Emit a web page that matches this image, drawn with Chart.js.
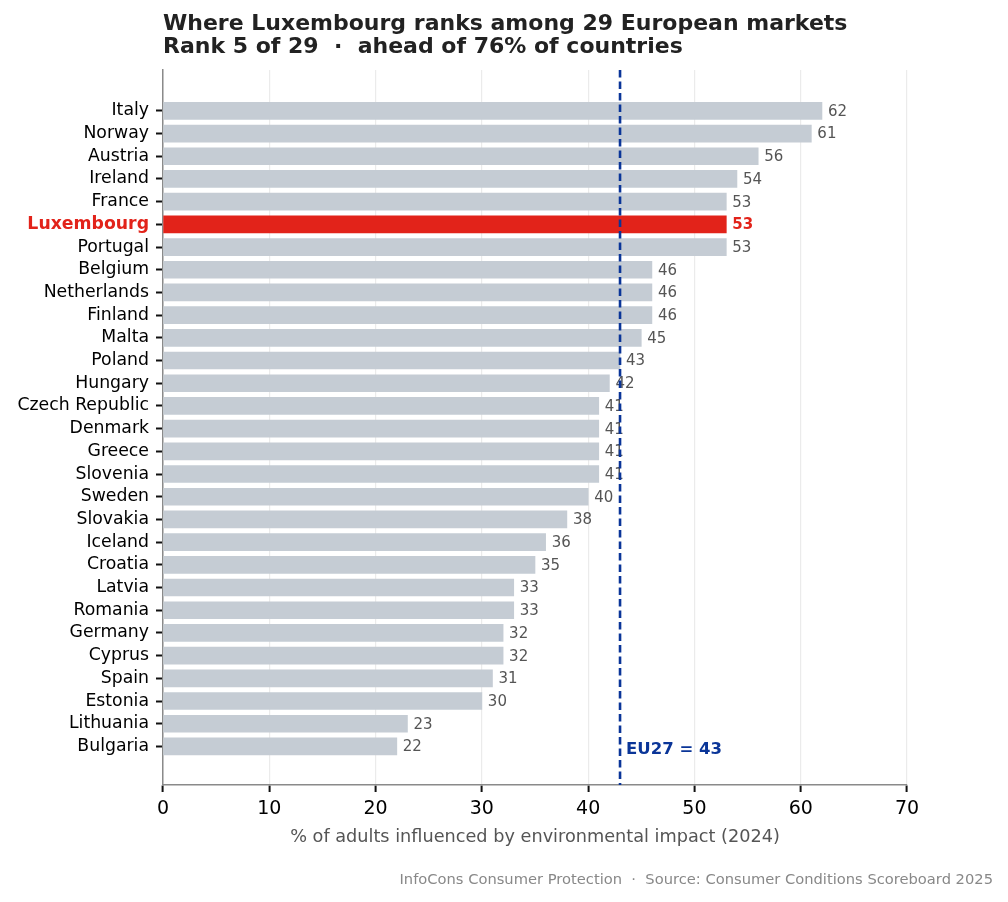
<!DOCTYPE html>
<html>
<head>
<meta charset="utf-8">
<script src="https://cdn.jsdelivr.net/npm/chart.js@4.4.1/dist/chart.umd.min.js"></script>
<style>
  html, body { margin: 0; padding: 0; background: #fff; }
  #wrap { width: 1008px; height: 902px; }
</style>
</head>
<body>
<div id="wrap"><canvas id="rankChart" width="1008" height="902"></canvas></div>
<script>
// Data (top to bottom)
const countries = ['Italy', 'Norway', 'Austria', 'Ireland', 'France', 'Luxembourg', 'Portugal', 'Belgium',
  'Netherlands', 'Finland', 'Malta', 'Poland', 'Hungary', 'Czech Republic', 'Denmark', 'Greece',
  'Slovenia', 'Sweden', 'Slovakia', 'Iceland', 'Croatia', 'Latvia', 'Romania', 'Germany', 'Cyprus',
  'Spain', 'Estonia', 'Lithuania', 'Bulgaria'];
const shares = [62, 61, 56, 54, 53, 53, 53, 46, 46, 46, 45, 43, 42, 41, 41, 41, 41, 40, 38, 36, 35, 33, 33, 32, 32, 31, 30, 23, 22];
const xTicks = [0, 10, 20, 30, 40, 50, 60, 70];
const focus = 'Luxembourg';
const eu27 = 43;

const FONT = "'DejaVu Sans', sans-serif";
const RED = '#e2231a';
const GREY_BAR = '#c5ccd4';
const EU_BLUE = '#0a3598';

// bar value labels + EU27 reference line + title/footer text
const extras = {
  id: 'extras',
  afterDatasetsDraw(chart) {
    const { ctx, chartArea, scales } = chart;
    const meta = chart.getDatasetMeta(0);
    ctx.save();
    ctx.textBaseline = 'middle';
    ctx.textAlign = 'left';
    meta.data.forEach((bar, i) => {
      const isFocus = countries[i] === focus;
      ctx.font = (isFocus ? 'bold ' : '') + '15px ' + FONT;
      ctx.fillStyle = isFocus ? RED : '#555555';
      ctx.fillText(String(shares[i]), bar.x + 6, bar.y + 1);
    });

    // EU27 dashed line
    const xe = scales.x.getPixelForValue(eu27);
    ctx.strokeStyle = EU_BLUE;
    ctx.lineWidth = 2.6;
    ctx.setLineDash([7.5, 4]);
    ctx.beginPath();
    ctx.moveTo(xe, chartArea.top);
    ctx.lineTo(xe, chartArea.bottom);
    ctx.stroke();
    ctx.setLineDash([]);

    ctx.font = 'bold 16.5px ' + FONT;
    ctx.fillStyle = EU_BLUE;
    ctx.fillText('EU27 = ' + eu27, xe + 6, chartArea.bottom - 35);
    ctx.restore();
  },
  afterDraw(chart) {
    const { ctx, chartArea } = chart;
    ctx.save();
    ctx.fillStyle = '#222222';
    ctx.font = 'bold 22px ' + FONT;
    ctx.textAlign = 'left';
    ctx.textBaseline = 'middle';
    ctx.fillText('Where Luxembourg ranks among 29 European markets', chartArea.left, 24);
    ctx.fillText('Rank 5 of 29  \u00b7  ahead of 76% of countries', chartArea.left, 47);

    ctx.font = '14.7px ' + FONT;
    ctx.fillStyle = '#888888';
    ctx.textAlign = 'right';
    ctx.fillText('InfoCons Consumer Protection  \u00b7  Source: Consumer Conditions Scoreboard 2025', 993, 880);
    ctx.restore();
  }
};

new Chart(document.getElementById('rankChart'), {
  type: 'bar',
  data: {
    datasets: [{
      data: shares.map((v, i) => ({ x: v, y: i })),
      backgroundColor: countries.map(c => c === focus ? RED : GREY_BAR),
      barThickness: 17,
      borderWidth: 0
    }]
  },
  options: {
    indexAxis: 'y',
    responsive: false,
    animation: false,
    events: [],
    layout: { padding: { top: 70, right: 101, bottom: 0, left: 0 } },
    plugins: {
      legend: { display: false },
      tooltip: { enabled: false },
      title: { display: false }
    },
    scales: {
      x: {
        type: 'linear',
        min: 0,
        max: 70,
        afterBuildTicks: (scale) => { scale.ticks = xTicks.map(v => ({ value: v })); },
        afterFit: (scale) => { scale.height = 117; },
        ticks: { color: '#000', font: { family: FONT, size: 19 }, padding: 6 },
        grid: { color: '#ebebeb', lineWidth: 1.2, tickColor: '#111', tickWidth: 2, tickLength: 7 },
        border: { color: '#8a8a8a', width: 1.5 },
        title: {
          display: true,
          text: '% of adults influenced by environmental impact (2024)',
          color: '#555',
          font: { family: FONT, size: 17.7 },
          padding: { top: 4, bottom: 54 }
        }
      },
      y: {
        type: 'linear',
        reverse: true,
        offset: false,
        min: -1.8,
        max: 29.7,
        afterBuildTicks: (scale) => { scale.ticks = countries.map((c, i) => ({ value: i })); },
        afterFit: (scale) => { scale.width = 163; },
        ticks: {
          autoSkip: false,
          padding: 7,
          callback: (v) => countries[v],
          color: (ctx) => countries[ctx.index] === focus ? RED : '#000',
          font: (ctx) => ({ family: FONT, size: 17.3, weight: countries[ctx.index] === focus ? 'bold' : 'normal' })
        },
        grid: { offset: false, drawOnChartArea: false, color: '#111', tickColor: '#111', tickWidth: 2, tickLength: 7 },
        border: { color: '#8a8a8a', width: 1.5 }
      }
    }
  },
  plugins: [extras]
});
</script>
</body>
</html>
